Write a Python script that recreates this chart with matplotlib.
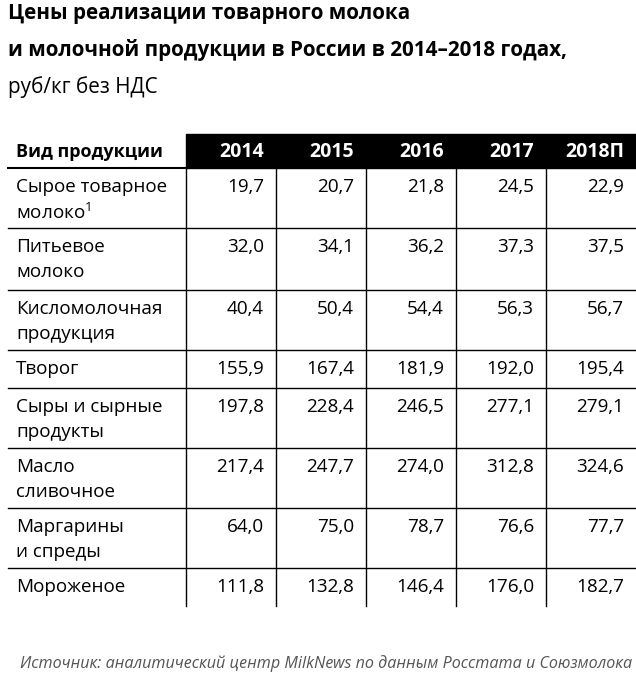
import matplotlib
matplotlib.use("Agg")
import matplotlib.pyplot as plt
from matplotlib.patches import Rectangle

title = ["Цены реализации товарного молока", "и молочной продукции в России в 2014–2018 годах,"]
subtitle = "руб/кг без НДС"
header_first = "Вид продукции"
years = ["2014", "2015", "2016", "2017", "2018П"]
products = ["Сырое товарное\nмолоко$^{\\mathregular{1}}$", "Питьевое\nмолоко", "Кисломолочная\nпродукция", "Творог",
            "Сыры и сырные\nпродукты", "Масло\nсливочное", "Маргарины\nи спреды", "Мороженое"]
values = [
    ["19,7", "20,7", "21,8", "24,5", "22,9"],
    ["32,0", "34,1", "36,2", "37,3", "37,5"],
    ["40,4", "50,4", "54,4", "56,3", "56,7"],
    ["155,9", "167,4", "181,9", "192,0", "195,4"],
    ["197,8", "228,4", "246,5", "277,1", "279,1"],
    ["217,4", "247,7", "274,0", "312,8", "324,6"],
    ["64,0", "75,0", "78,7", "76,6", "77,7"],
    ["111,8", "132,8", "146,4", "176,0", "182,7"],
]
source = "Источник: аналитический центр MilkNews по данным Росстата и Союзмолока"

W, H = 636, 673
fig = plt.figure(figsize=(W/100, H/100), dpi=100)
ax = fig.add_axes([0, 0, 1, 1])
ax.set_xlim(0, W); ax.set_ylim(H, 0); ax.axis("off")
font = "Open Sans"

ax.text(8, 14, title[0], fontsize=14.9, fontweight="bold", family=font, va="center")
ax.text(8, 50, title[1], fontsize=14.9, fontweight="bold", family=font, va="center")
ax.text(8, 87, subtitle, fontsize=14.9, family=font, va="center")

cols = [186, 276, 366, 456, 546, 636]
top, hb = 134, 168
rows = [168, 228, 290, 350, 388, 448, 508, 568, 606]

ax.add_patch(Rectangle((cols[0], top), W - cols[0], hb - top, color="black"))
ax.text(16, 152, header_first, fontsize=13, fontweight="bold", family=font, va="center")
for i, y in enumerate(years):
    ax.text(cols[i+1] - 12, 152, y, fontsize=14, fontweight="bold", color="white",
            family=font, va="center", ha="right")
ax.plot([8, cols[0]], [hb, hb], color="black", lw=1.5)

for r in rows[1:-1]:
    ax.plot([8, W], [r, r], color="black", lw=1)
for c in cols[:-1]:
    ax.plot([c, c], [hb, rows[-1]], color="black", lw=1)

for i, p in enumerate(products):
    lines = p.split("\n")
    y0 = rows[i]; y1 = rows[i+1]
    if len(lines) == 2:
        ax.text(16, y0 + 19, lines[0], fontsize=13.6, family=font, va="center")
        ax.text(16, y0 + 44, lines[1], fontsize=13.6, family=font, va="center")
        vy = y0 + 19
    else:
        ax.text(16, (y0 + y1) / 2, lines[0], fontsize=13.6, family=font, va="center")
        vy = (y0 + y1) / 2
    for j, v in enumerate(values[i]):
        ax.text(cols[j+1] - 12, vy, v, fontsize=13.6, family=font, va="center", ha="right")

ax.text(W - 4, 664, source, fontsize=11.6, style="italic", color="#555555", family=font,
        va="center", ha="right")
fig.savefig("out.png", dpi=100)
